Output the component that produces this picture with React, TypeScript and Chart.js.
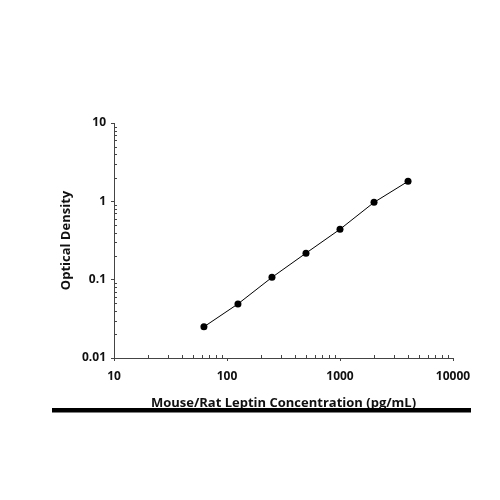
import { useEffect, useRef } from 'react';
import { Chart, registerables } from 'chart.js';

Chart.register(...registerables);

const concentrations = [62.5, 125, 250, 500, 1000, 2000, 4000];
const opticalDensity = [0.025, 0.049, 0.107, 0.218, 0.44, 0.97, 1.8];

const xMajor = [10, 100, 1000, 10000];
const xTickLabels = ['10', '100', '1000', '10000'];
const yMajor = [0.01, 0.1, 1, 10];
const yTickLabels = ['0.01', '0.1', '1', '10'];

const xTitle = 'Mouse/Rat Leptin Concentration (pg/mL)';
const yTitle = 'Optical Density';

// all 1..9 x 10^k values between first and last major
function logSteps(majors: number[]) {
  const out: number[] = [];
  for (let i = 0; i < majors.length - 1; i++) {
    for (let m = 1; m < 10; m++) out.push(+(majors[i] * m).toPrecision(3));
  }
  out.push(majors[majors.length - 1]);
  return out;
}

function isMajor(v: number, majors: number[]) {
  return majors.findIndex((m) => Math.abs(m - v) / m < 1e-6);
}

const FONT = '"Open Sans", "DejaVu Sans", sans-serif';

const decorPlugin = {
  id: 'decor',
  afterDraw(chart: Chart) {
    const { ctx, chartArea } = chart;
    const xs = chart.scales.x;
    const ys = chart.scales.y;
    ctx.save();
    ctx.strokeStyle = '#444';
    ctx.lineWidth = 1;
    ctx.beginPath();
    logSteps(xMajor).forEach((v) => {
      if (isMajor(v, xMajor) >= 0) return;
      const px = Math.round(xs.getPixelForValue(v)) + 0.5;
      ctx.moveTo(px, chartArea.bottom);
      ctx.lineTo(px, chartArea.bottom - 3);
    });
    logSteps(yMajor).forEach((v) => {
      if (isMajor(v, yMajor) >= 0) return;
      const py = Math.round(ys.getPixelForValue(v)) + 0.5;
      ctx.moveTo(chartArea.left, py);
      ctx.lineTo(chartArea.left + 3, py);
    });
    ctx.stroke();
    // heavy rule under the x title
    ctx.fillStyle = '#000';
    ctx.fillRect(52, 408, 419, 4.5);
    ctx.restore();
  },
};

export default function App() {
  const chartRef = useRef<HTMLCanvasElement>(null);

  useEffect(() => {
    if (!chartRef.current) return;
    const ctx = chartRef.current.getContext('2d');
    if (!ctx) return;

    const chart = new Chart(ctx, {
      type: 'line',
      data: {
        datasets: [
          {
            data: concentrations.map((c, i) => ({ x: c, y: opticalDensity[i] })),
            borderColor: '#000',
            backgroundColor: '#000',
            borderWidth: 1,
            pointRadius: 3.5,
            pointBackgroundColor: '#000',
            pointBorderWidth: 0,
            tension: 0,
          },
        ],
      },
      options: {
        responsive: true,
        maintainAspectRatio: false,
        animation: false,
        layout: { padding: { top: 123, right: 47, bottom: 85, left: 54 } },
        plugins: { legend: { display: false }, tooltip: { enabled: false } },
        scales: {
          x: {
            type: 'logarithmic',
            min: 10,
            max: 10000,
            afterBuildTicks: (s: any) => {
              s.ticks = logSteps(xMajor).map((v) => ({ value: v }));
            },
            afterFit: (s: any) => {
              s.height = 57;
            },
            border: { display: true, color: '#444', width: 1 },
            grid: {
              drawOnChartArea: false,
              drawTicks: true,
              tickLength: 3,
              tickColor: (c: any) => (isMajor(c.tick?.value, xMajor) >= 0 ? '#444' : 'rgba(0,0,0,0)'),
            },
            ticks: {
              autoSkip: false,
              maxRotation: 0,
              padding: 8,
              color: '#111',
              font: { family: FONT, size: 12, weight: 'bold' },
              callback: (v: any) => {
                const i = isMajor(Number(v), xMajor);
                return i >= 0 ? xTickLabels[i] : '';
              },
            },
            title: {
              display: true,
              text: xTitle,
              color: '#111',
              font: { family: FONT, size: 13, weight: 'bold' },
            },
          },
          y: {
            type: 'logarithmic',
            min: 0.01,
            max: 10,
            afterBuildTicks: (s: any) => {
              s.ticks = logSteps(yMajor).map((v) => ({ value: v }));
            },
            afterFit: (s: any) => {
              s.width = 60;
            },
            border: { display: true, color: '#444', width: 1 },
            grid: {
              drawOnChartArea: false,
              drawTicks: true,
              tickLength: 3,
              tickColor: (c: any) => (isMajor(c.tick?.value, yMajor) >= 0 ? '#444' : 'rgba(0,0,0,0)'),
            },
            ticks: {
              autoSkip: false,
              padding: 5,
              color: '#111',
              font: { family: FONT, size: 12, weight: 'bold' },
              callback: (v: any) => {
                const i = isMajor(Number(v), yMajor);
                return i >= 0 ? yTickLabels[i] : '';
              },
            },
            title: {
              display: true,
              text: yTitle,
              color: '#111',
              font: { family: FONT, size: 13, weight: 'bold' },
            },
          },
        },
      },
      plugins: [decorPlugin],
    });

    return () => {
      chart.destroy();
    };
  }, []);

  return (
    <div style={{ position: 'fixed', left: 0, top: 0, width: 500, height: 500, background: '#fff' }}>
      <canvas ref={chartRef}></canvas>
    </div>
  );
}
